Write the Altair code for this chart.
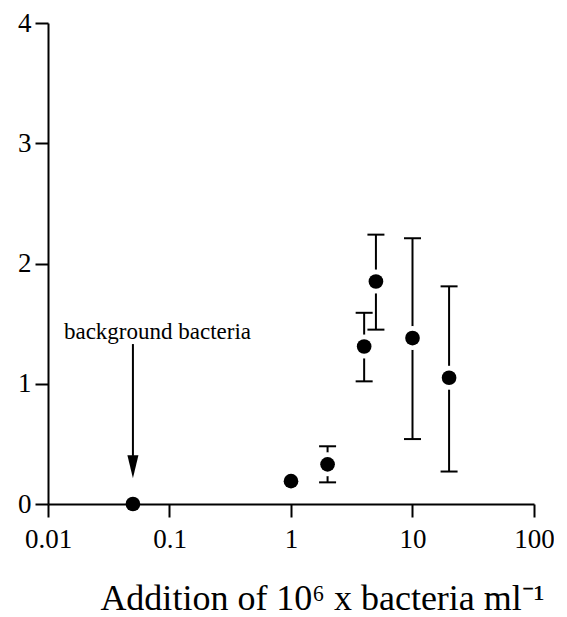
import altair as alt
import pandas as pd

# ---- data ----
x_vals = [0.05, 1, 2, 4, 5, 10, 20]
y_vals = [0.0, 0.19, 0.33, 1.31, 1.85, 1.38, 1.05]
err_x = [2, 4, 5, 10, 20]
err_lo = [0.18, 1.02, 1.45, 0.54, 0.27]
err_hi = [0.48, 1.59, 2.24, 2.21, 1.81]
err_y = [0.33, 1.31, 1.85, 1.38, 1.05]

x_ticks = [0.01, 0.1, 1, 10, 100]
y_ticks = [0, 1, 2, 3, 4]

note_text = ["background bacteria"]
arrow_x = [0.05]
arrow_top = [1.33]
arrow_shaft_end = [0.40]
arrow_head_mid = [0.31]
note_y = [1.37]

FONT = "Liberation Serif"

pts = pd.DataFrame({"x": x_vals, "y": y_vals})
errs = pd.DataFrame({"x": err_x, "lo": err_lo, "hi": err_hi, "y": err_y})
arrow = pd.DataFrame({"x": arrow_x, "top": arrow_top, "end": arrow_shaft_end,
                      "mid": arrow_head_mid, "ny": note_y, "label": note_text})

xscale = alt.Scale(type="log", domain=[0.01, 100], nice=False)
yscale = alt.Scale(domain=[0, 4], nice=False, zero=False)

X = alt.X("x:Q", scale=xscale,
          axis=alt.Axis(values=x_ticks, labelExpr="'' + datum.value",
                        title="Addition of 10\u2076 x bacteria ml\u207b\u00b9",
                        titleX=274, titleY=105, titleAlign="center",
                        titleBaseline="alphabetic", titleFontSize=36,
                        labelPadding=9, labelFlush=False))

def Y(field):
    return alt.Y(field, scale=yscale,
                 axis=alt.Axis(values=y_ticks, format="d", title="",
                               labelPadding=4))

base_e = alt.Chart(errs)
rules = base_e.mark_rule(color="black", strokeWidth=2).encode(
    x=X, y=Y("lo:Q"), y2="hi:Q")
cap_hi = base_e.mark_tick(orient="horizontal", size=17, thickness=2,
                          color="black", opacity=1).encode(x=X, y=Y("hi:Q"))
cap_lo = base_e.mark_tick(orient="horizontal", size=17, thickness=2,
                          color="black", opacity=1).encode(x=X, y=Y("lo:Q"))
halo = base_e.mark_circle(color="white", size=573, opacity=1).encode(
    x=X, y=Y("y:Q"))

dots = alt.Chart(pts).mark_circle(color="black", size=215, opacity=1).encode(
    x=X, y=Y("y:Q"))

base_a = alt.Chart(arrow)
shaft = base_a.mark_rule(color="black", strokeWidth=2).encode(
    x=X, y=Y("top:Q"), y2="end:Q")
head = base_a.mark_point(shape="M-0.48,-1L0.48,-1L0,1Z", filled=True,
                         size=529, color="black", opacity=1).encode(
    x=X, y=Y("mid:Q"))
note = base_a.mark_text(font=FONT, fontSize=23, align="left",
                        baseline="alphabetic", dx=-69, color="black").encode(
    x=X, y=Y("ny:Q"), text="label:N")

chart = alt.layer(rules, cap_hi, cap_lo, halo, dots, shaft, head, note).properties(
    width=486, height=481,
    autosize=alt.AutoSizeParams(type="none"),
    padding={"left": 40, "top": 15, "right": 20, "bottom": 113},
).configure_view(stroke=None).configure_axis(
    grid=False, labelFont=FONT, labelFontSize=27, labelColor="black",
    titleFont=FONT, titleFontWeight="normal", titleColor="black",
    domainColor="black", domainWidth=2, tickColor="black", tickWidth=2,
    tickSize=13,
)

chart.save("out.html", embed_options={"renderer": "svg", "actions": False})
